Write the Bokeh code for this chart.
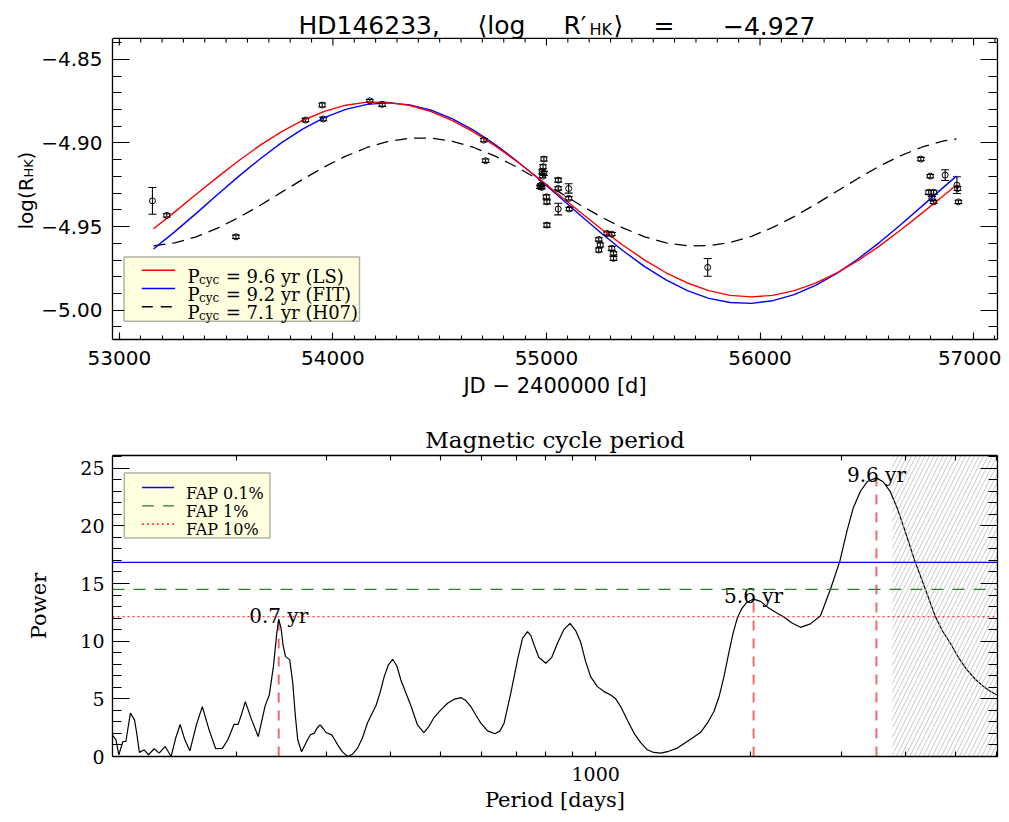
from math import pi
from bokeh.plotting import figure
from bokeh.layouts import column, row
from bokeh.models import (ColumnDataSource, Range1d, LinearAxis, LogAxis, LogScale,
                          SingleIntervalTicker, FixedTicker, BasicTickFormatter,
                          CustomJSTickFormatter, Whisker, TeeHead, Span, Label,
                          BoxAnnotation, Arrow)
from bokeh.embed import file_html
from bokeh.resources import INLINE
from bokeh.core.properties import value

# ---------------- top panel data ----------------
obs_jd = [53155, 53222, 53546, 53872, 53950, 53955, 54173, 54231, 54707, 54715,
          54988, 54984, 54980, 54988, 54982, 54975, 54970, 54978, 55000, 55002,
          55002, 55055, 55055, 55055, 55104, 55104, 55107, 55245, 55245, 55252,
          55283, 55306, 55306, 55314, 55314, 55755, 56753, 56797, 56790, 56813,
          56805, 56813, 56867, 56922, 56925, 56929]
obs_logrhk = [-4.9346, -4.9433, -4.9561, -4.8863, -4.8773, -4.8857, -4.8748, -4.8769, -4.8983, -4.9106,
              -4.9096, -4.9142, -4.9172, -4.9182, -4.9198, -4.9252, -4.9262, -4.9265, -4.9322, -4.9352,
              -4.9491, -4.9222, -4.9272, -4.9395, -4.9272, -4.9331, -4.9395, -4.9577, -4.9640, -4.9610,
              -4.9541, -4.9545, -4.9630, -4.9660, -4.9690, -4.9744, -4.9096, -4.9198, -4.9295, -4.9295,
              -4.9331, -4.9352, -4.9192, -4.9252, -4.9272, -4.9352]
obs_err = [0.0080, 0.0010, 0.0010, 0.0010, 0.0012, 0.0010, 0.0008, 0.0012, 0.0010, 0.0010,
           0.0012, 0.0012, 0.0012, 0.0012, 0.0010, 0.0010, 0.0010, 0.0010, 0.0012, 0.0012,
           0.0012, 0.0012, 0.0010, 0.0035, 0.0028, 0.0010, 0.0010, 0.0010, 0.0012, 0.0012,
           0.0010, 0.0010, 0.0012, 0.0010, 0.0012, 0.0053, 0.0010, 0.0010, 0.0012, 0.0012,
           0.0012, 0.0010, 0.0032, 0.0050, 0.0012, 0.0010]

fit_jd = [53160, 53260, 53360, 53460, 53560, 53660, 53760, 53860, 53960, 54060,
          54160, 54260, 54360, 54460, 54560, 54660, 54760, 54860, 54960, 55060,
          55160, 55260, 55360, 55460, 55560, 55660, 55760, 55860, 55960, 56060,
          56160, 56260, 56360, 56460, 56560, 56660, 56760, 56860, 56920]
fit_ls = [-4.9513, -4.9412, -4.9307, -4.9204, -4.9105, -4.9013, -4.8932, -4.8864, -4.8811, -4.8774,
          -4.8756, -4.8757, -4.8776, -4.8812, -4.8866, -4.8935, -4.9017, -4.9109, -4.9208, -4.9311,
          -4.9416, -4.9517, -4.9613, -4.9700, -4.9776, -4.9837, -4.9883, -4.9911, -4.9920, -4.9911,
          -4.9883, -4.9838, -4.9777, -4.9702, -4.9615, -4.9519, -4.9418, -4.9314, -4.9251]
fit_free = [-4.9634, -4.9530, -4.9421, -4.9308, -4.9198, -4.9094, -4.8998, -4.8916, -4.8848, -4.8799,
            -4.8769, -4.8760, -4.8772, -4.8804, -4.8856, -4.8925, -4.9009, -4.9106, -4.9211, -4.9322,
            -4.9434, -4.9543, -4.9646, -4.9739, -4.9819, -4.9883, -4.9929, -4.9954, -4.9959, -4.9943,
            -4.9907, -4.9852, -4.9780, -4.9692, -4.9594, -4.9487, -4.9376, -4.9264, -4.9198]
fit_h07 = [-4.9615, -4.9597, -4.9561, -4.9509, -4.9445, -4.9372, -4.9294, -4.9217, -4.9143, -4.9079,
           -4.9027, -4.8990, -4.8971, -4.8971, -4.8990, -4.9027, -4.9079, -4.9143, -4.9217, -4.9294,
           -4.9372, -4.9445, -4.9509, -4.9561, -4.9597, -4.9615, -4.9614, -4.9595, -4.9558, -4.9505,
           -4.9440, -4.9367, -4.9289, -4.9211, -4.9138, -4.9075, -4.9024, -4.8988, -4.8976]

cycle_years = ["9.6", "9.2", "7.1"]
cycle_method = ["LS", "FIT", "H07"]
cycle_colors = ["red", "blue", "black"]
cycle_dash = ["solid", "solid", "11 8"]

star_name = "HD146233,"
mean_logrhk = "−4.927"

# ---------------- bottom panel data ----------------
period_days = [115.1, 116.8, 118.3, 120.5, 122.1, 123.4, 124.6, 126.9, 128.2, 129.7,
               132.5, 135.1, 138.6, 141.7, 145.6, 149.5, 152.6, 155.7, 158.8, 162.6,
               167.4, 171.9, 177.2, 182.5, 188.1, 192.7, 198.2, 201.8, 205.0, 208.4,
               214.3, 220.8, 227.7, 232.0, 236.3, 239.7, 242.0, 244.5, 246.7, 249.5,
               254.2, 257.7, 260.6, 263.5, 268.0, 273.5, 278.8, 283.8, 287.2, 291.1,
               295.0, 299.0, 306.8, 310.6, 315.1, 321.9, 329.5, 336.6, 344.5, 352.0,
               360.3, 367.3, 373.9, 380.7, 388.0, 395.4, 402.9, 410.7, 418.1, 427.6,
               437.3, 450.2, 463.4, 473.9, 485.3, 500.0, 515.2, 529.9, 546.8, 559.2,
               571.8, 584.7, 598.0, 616.2, 636.6, 651.0, 663.6, 683.8, 704.7, 720.6,
               736.9, 747.8, 759.0, 775.1, 799.7, 821.5, 842.7, 866.7, 891.5, 914.5,
               935.1, 956.3, 977.9, 1007.6, 1036.4, 1069.4, 1093.5, 1118.3, 1152.3, 1186.7,
               1222.9, 1260.1, 1296.1, 1337.3, 1386.0, 1441.0, 1529.3, 1599.3, 1648.0, 1697.4,
               1737.3, 1775.0, 1812.7, 1849.5, 1884.6, 1921.2, 1964.6, 2027.1, 2091.5, 2158.0,
               2236.6, 2321.1, 2402.4, 2500.4, 2615.1, 2734.7, 2859.6, 2981.0, 3081.2, 3169.3,
               3271.1, 3374.2, 3513.4, 3624.4, 3740.4, 3850.0, 3968.8, 4071.1, 4181.8, 4372.8,
               4572.7, 4718.3, 4891.2, 5068.0, 5269.0, 5468.5, 5675.1, 5847.3, 6025.6]
power = [1.84, 1.45, 0.15, 1.30, 1.30, 2.6, 3.76, 3.18, 2.0, 0.36,
         0.58, 0.15, 0.67, 0.29, 0.87, 0.0, 1.6, 2.77, 1.5, 0.49,
         2.74, 4.33, 2.31, 0.67, 0.71, 1.45, 2.79, 2.79, 3.7, 4.76,
         3.2, 1.73, 4.39, 5.34, 7.79, 10.54, 11.92, 11.14, 9.67, 8.66,
         8.40, 6.38, 3.6, 1.45, 0.41, 1.2, 1.88, 2.03, 2.45, 2.74,
         2.45, 2.08, 1.88, 1.5, 1.01, 0.4, 0.0, 0.2, 0.73, 1.6,
         2.95, 3.7, 4.4, 5.5, 6.93, 7.95, 8.43, 7.85, 6.64, 5.5,
         4.4, 2.75, 2.08, 2.6, 3.4, 4.04, 4.62, 4.95, 5.11, 4.85,
         4.33, 3.6, 2.89, 2.22, 1.97, 2.2, 2.89, 5.49, 8.37, 10.25,
         10.82, 10.5, 9.67, 8.6, 8.09, 8.6, 9.82, 11.0, 11.55, 10.9,
         9.9, 8.2, 6.9, 6.06, 5.65, 5.34, 5.0, 4.33, 3.15, 2.03,
         1.2, 0.58, 0.35, 0.29, 0.45, 0.73, 1.5, 2.1, 2.89, 3.9,
         5.2, 6.9, 8.9, 10.7, 12.0, 12.8, 13.35, 13.65, 13.45, 12.95,
         12.5, 12.1, 11.6, 11.2, 11.5, 12.2, 14.5, 16.9, 19.6, 21.6,
         23.0, 23.85, 24.16, 23.8, 22.94, 21.6, 19.91, 18.4, 16.83, 14.5,
         12.15, 10.9, 9.82, 8.6, 7.51, 6.7, 6.06, 5.65, 5.34]

fap_levels = [16.83, 14.49, 12.12]
fap_labels = ["FAP 0.1%", "FAP 1%", "FAP 10%"]
fap_colors = ["blue", "#2e7d2e", "red"]
fap_dash = ["solid", "12 9", "2 3"]

peak_period = [242.0, 2027.1, 3513.4]
peak_power = [11.92, 13.65, 24.16]
peak_label = ["0.7 yr", "5.6 yr", "9.6 yr"]

baseline_days = 3773.0   # hatched: periods longer than the time baseline

SANS = "DejaVu Sans"
SERIF = "DejaVu Serif"

# plot-box limits of the top panel (the frame extends above it to hold the title)
Y_BOX_BOTTOM, Y_BOX_TOP = -5.0175, -4.8375
Y_FRAME_TOP = -4.8172
PX_PER_UNIT = 301.0 / (Y_BOX_TOP - Y_BOX_BOTTOM)


def style_axis(ax, font, size, maj_in, min_in, standoff, labels=True):
    ax.axis_line_color = "black"
    ax.axis_line_width = 1.3
    ax.major_tick_line_color = "black"
    ax.minor_tick_line_color = "black"
    ax.major_tick_line_width = 1.1
    ax.minor_tick_line_width = 1.1
    ax.major_tick_in = maj_in
    ax.major_tick_out = 0
    ax.minor_tick_in = min_in
    ax.minor_tick_out = 0
    ax.major_label_text_font = font
    ax.major_label_text_font_size = size
    ax.major_label_text_color = "black"
    ax.major_label_standoff = standoff
    ax.axis_label_text_color = "black"
    ax.axis_label_text_font = font
    ax.axis_label_text_font_style = "normal"
    if not labels:
        ax.formatter = CustomJSTickFormatter(code="return ''")
        ax.major_label_text_font_size = "1px"
        ax.major_label_standoff = 0


def scr_label(p, x, y, text, font, size, align="left"):
    p.add_layout(Label(x=x, y=y, x_units="screen", y_units="screen", text=text,
                       text_font=font, text_font_size=size, text_color="black",
                       text_align=align, text_baseline="alphabetic"))


def data_label(p, x, y, text, font, size, align="left", angle=0.0):
    p.add_layout(Label(x=x, y=y, text=text, text_font=font, text_font_size=size,
                       text_color="black", text_align=align, text_baseline="alphabetic",
                       angle=angle))


def scr_line(p, x0, x1, y, color, dash, width):
    p.add_layout(Arrow(x_start=x0, y_start=y, x_end=x1, y_end=y,
                       start_units="screen", end_units="screen", start=None, end=None,
                       line_color=color, line_dash=dash, line_width=width))


# ================= Y-LABEL STRIP (log(R_HK)) =================
# same top/bottom borders as the top panel; y data == 400 - page y
ylab_fig = figure(width=38, height=400, output_backend="svg", toolbar_location=None,
                  x_range=Range1d(0, 38), y_range=Range1d(61, 396),
                  x_axis_type=None, y_axis_type=None, title_location=None,
                  min_border_left=0, min_border_right=0, min_border_top=4, min_border_bottom=61)
ylab_fig.outline_line_color = None
data_label(ylab_fig, 25, 171, "log(R", SANS, "20px", angle=pi / 2)
data_label(ylab_fig, 28, 223, "HK", SANS, "13px", angle=pi / 2)
data_label(ylab_fig, 25, 241, ")", SANS, "20px", angle=pi / 2)

# ================= TOP PANEL =================
p1 = figure(width=963, height=400, output_backend="svg", toolbar_location=None,
            x_range=Range1d(52968, 57112), y_range=Range1d(Y_BOX_BOTTOM, Y_FRAME_TOP),
            x_axis_type=None, y_axis_type=None, title_location=None,
            min_border_left=74, min_border_right=4, min_border_top=4, min_border_bottom=61)
p1.outline_line_color = None

xt1 = SingleIntervalTicker(interval=1000, num_minor_ticks=10)
yt1 = SingleIntervalTicker(interval=0.05, num_minor_ticks=5)

ax = LinearAxis(ticker=xt1, axis_label="JD − 2400000 [d]")
style_axis(ax, SANS, "20px", 7, 4, 11)
ax.axis_label_text_font_size = "21px"
ax.axis_label_standoff = 6
p1.add_layout(ax, "below")
ax = LinearAxis(ticker=yt1, bounds=(Y_BOX_BOTTOM, Y_BOX_TOP), formatter=CustomJSTickFormatter(
    code="return (tick < 0 ? '\\u2212' : '') + Math.abs(tick).toFixed(2);"))
style_axis(ax, SANS, "20px", 17, 9, 10)
p1.add_layout(ax, "left")
ax = LinearAxis(ticker=yt1, bounds=(Y_BOX_BOTTOM, Y_BOX_TOP))
style_axis(ax, SANS, "20px", 17, 9, 0, labels=False)
p1.add_layout(ax, "right")

# top edge of the plot box with its inward ticks
p1.add_layout(Span(location=Y_BOX_TOP, dimension="width", line_color="black",
                   line_width=1.3, level="guide"))
top_major = list(range(53000, 57001, 1000))
top_minor = [t for t in range(53000, 57101, 100) if t % 1000 != 0]
p1.segment(x0=top_major, x1=top_major, y0=[Y_BOX_TOP] * len(top_major),
           y1=[Y_BOX_TOP - 7 / PX_PER_UNIT] * len(top_major), line_color="black", line_width=1.1)
p1.segment(x0=top_minor, x1=top_minor, y0=[Y_BOX_TOP] * len(top_minor),
           y1=[Y_BOX_TOP - 4 / PX_PER_UNIT] * len(top_minor), line_color="black", line_width=1.1)

p1.line(fit_jd, fit_h07, line_color="black", line_width=1.3, line_dash="12 7")
p1.line(fit_jd, fit_free, line_color="blue", line_width=1.4)
p1.line(fit_jd, fit_ls, line_color="red", line_width=1.4)

obs_src = ColumnDataSource(dict(
    jd=obs_jd, y=obs_logrhk,
    lo=[v - e for v, e in zip(obs_logrhk, obs_err)],
    hi=[v + e for v, e in zip(obs_logrhk, obs_err)]))
p1.add_layout(Whisker(base="jd", upper="hi", lower="lo", source=obs_src, dimension="height",
                      line_color="black", line_width=1.1,
                      upper_head=TeeHead(size=8, line_color="black", line_width=1.1),
                      lower_head=TeeHead(size=8, line_color="black", line_width=1.1)))
p1.scatter("jd", "y", source=obs_src, marker="circle", size=6, fill_color=None,
           line_color="black", line_width=1)

# legend (top)
p1.add_layout(BoxAnnotation(left=11.6, right=247, top=82.6, bottom=18.3,
                            left_units="screen", right_units="screen",
                            top_units="screen", bottom_units="screen",
                            fill_color="#ffffe0", fill_alpha=1.0,
                            line_color="black", line_width=1.5, level="annotation"))
for i in range(3):
    yrow = 69.3 - 18.3 * i
    scr_line(p1, 29.3, 62.6, yrow, cycle_colors[i], cycle_dash[i], 1.6)
    ybase = 63.3 - 18.3 * i
    scr_label(p1, 75, ybase, "P", SERIF, "18px")
    scr_label(p1, 86.5, ybase - 3.5, "cyc", SERIF, "12px")
    scr_label(p1, 113.3, ybase, "= %s yr (%s)" % (cycle_years[i], cycle_method[i]), SERIF, "18px")

# title (inside the extended frame, above the plot box), with subscript
scr_label(p1, 186, 314, star_name, SANS, "25px")
scr_label(p1, 365, 314, "⟨log", SANS, "25px")
scr_label(p1, 451, 314, "R′", SANS, "25px")
scr_label(p1, 477, 310, "HK", SANS, "16px")
scr_label(p1, 501, 314, "⟩", SANS, "25px")
scr_label(p1, 541, 314, "=", SANS, "25px")
scr_label(p1, 703, 314, mean_logrhk, SANS, "25px", align="right")

# ================= BOTTOM PANEL =================
p2 = figure(width=1001, height=414, output_backend="svg", toolbar_location=None,
            x_range=Range1d(115, 6040), y_range=Range1d(0, 26.1),
            x_axis_type=None, y_axis_type=None,
            title="Magnetic cycle period",
            min_border_left=112, min_border_right=4, min_border_top=55, min_border_bottom=57)
p2.x_scale = LogScale()
p2.outline_line_color = None
p2.title.align = "center"
p2.title.text_font = SERIF
p2.title.text_font_size = "23px"
p2.title.text_font_style = "normal"
p2.title.text_color = "black"
p2.title.standoff = 6

xt2 = FixedTicker(ticks=[100, 1000, 10000],
                  minor_ticks=[200, 300, 400, 500, 600, 700, 800, 900,
                               2000, 3000, 4000, 5000, 6000])
yt2 = SingleIntervalTicker(interval=5, num_minor_ticks=5)

ax = LogAxis(ticker=xt2, formatter=BasicTickFormatter(), axis_label="Period [days]")
style_axis(ax, SERIF, "19px", 5, 5, 10)
ax.axis_label_text_font_size = "21px"
ax.axis_label_standoff = 4
p2.add_layout(ax, "below")
ax = LogAxis(ticker=xt2)
style_axis(ax, SERIF, "19px", 5, 5, 0, labels=False)
p2.add_layout(ax, "above")
ax = LinearAxis(ticker=yt2, axis_label="Power")
style_axis(ax, SERIF, "19px", 17, 9, 8)
ax.axis_label_text_font_size = "21px"
ax.axis_label_standoff = 26
p2.add_layout(ax, "left")
ax = LinearAxis(ticker=yt2)
style_axis(ax, SERIF, "19px", 17, 9, 0, labels=False)
p2.add_layout(ax, "right")

for lvl, col, dsh in zip(fap_levels, fap_colors, fap_dash):
    p2.add_layout(Span(location=lvl, dimension="width", line_color=col,
                       line_dash=dsh, line_width=1.2, level="glyph"))

p2.segment(x0=peak_period, y0=[0] * len(peak_period), x1=peak_period, y1=peak_power,
           line_color="#f06a6a", line_width=2, line_dash="10 8")

p2.line(period_days, power, line_color="black", line_width=1.2)

p2.quad(left=[baseline_days], right=[p2.x_range.end], bottom=[p2.y_range.start],
        top=[p2.y_range.end], fill_color=None, line_color=None,
        hatch_pattern="/", hatch_color="#c2c2c2", hatch_weight=0.9, hatch_scale=9)

p2.text(x=peak_period, y=peak_power, text=peak_label, text_align="center",
        text_baseline="alphabetic", y_offset=-3, text_font=value(SERIF),
        text_font_size="20px", text_color="black")

# legend (bottom)
p2.add_layout(BoxAnnotation(left=11.8, right=157.5, top=283.4, bottom=218.4,
                            left_units="screen", right_units="screen",
                            top_units="screen", bottom_units="screen",
                            fill_color="#ffffe0", fill_alpha=1.0,
                            line_color="black", line_width=1.5, level="annotation"))
for i in range(3):
    scr_line(p2, 29.5, 61.5, 269 - 18.3 * i, fap_colors[i], fap_dash[i], 1.3)
    scr_label(p2, 73.5, 263.4 - 18.3 * i, fap_labels[i], SERIF, "16px")

page = column(row(ylab_fig, p1, spacing=0), p2, spacing=0)
open("out.html", "w").write(file_html(page, INLINE))
